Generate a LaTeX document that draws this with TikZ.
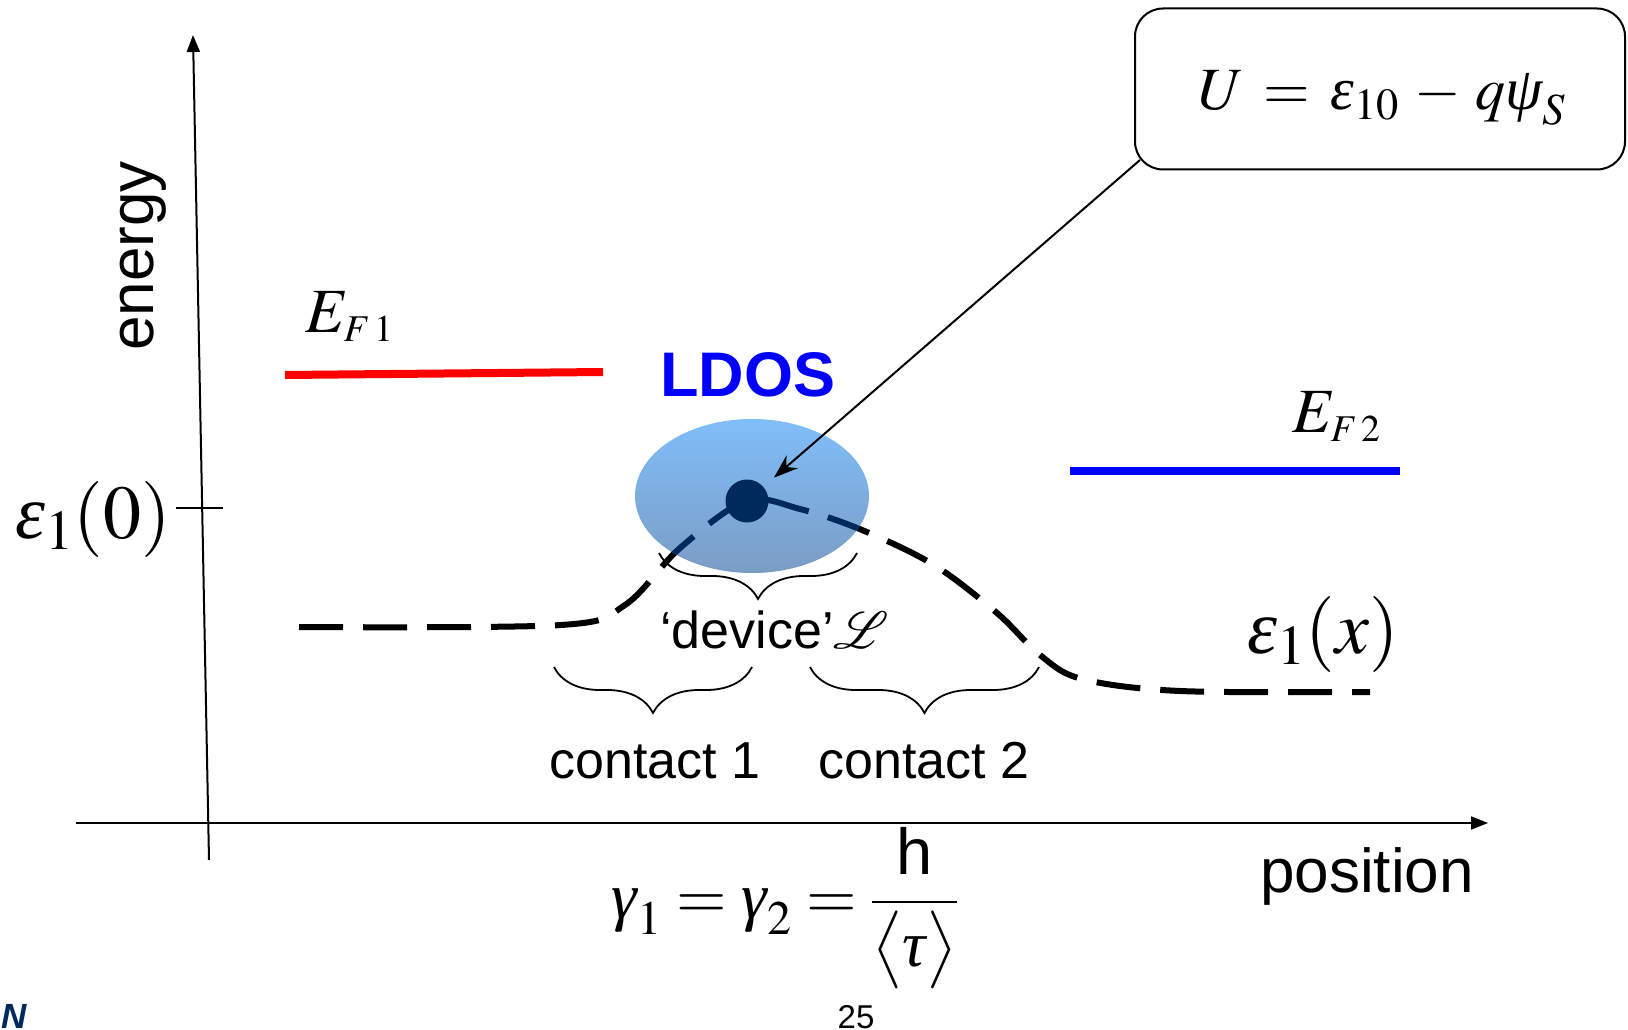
\documentclass[tikz,border=0pt]{standalone}
\usepackage{amsmath}
\usepackage{mathptmx}
\usepackage{fontspec}
\setmainfont{Liberation Serif}
\setsansfont{Liberation Sans}
\usetikzlibrary{arrows.meta,positioning,calc,decorations.pathreplacing,shapes.geometric}
\newcommand{\gk}[1]{\mbox{\itshape #1}}
\definecolor{dotnavy}{RGB}{0,42,92}
\definecolor{ldostop}{RGB}{128,190,250}
\definecolor{ldosbot}{RGB}{122,156,196}
\newcommand{\levelcurve}{plot[smooth,tension=0.55] coordinates {(299,627) (561,625)
  (625,605) (680,548) (746,501) (800,509) (862,530) (934,565) (997,613)
  (1040,655) (1082,679) (1180,691) (1370,692)}}

\begin{document}
\begin{tikzpicture}[
  x=1pt, y=-1pt,
  axis/.style     = {line width=2pt, -{Triangle[length=17pt,width=13pt]}},
  pointer/.style  = {line width=2pt, -{Stealth[length=24pt,width=17pt]}},
  fermi/.style    = {line width=8pt},
  bandline/.style = {line width=6pt, dash pattern=on 44pt off 20pt},
  brc/.style      = {decorate, decoration={brace, mirror, amplitude=46pt},
                     line width=1.8pt},
  txt/.style      = {inner sep=0pt, anchor=base},
  axlab/.style    = {txt, font=\sffamily\fontsize{62}{70}\selectfont},
  brlab/.style    = {txt, font=\sffamily\fontsize{52}{60}\selectfont},
  mlab/.style     = {txt, anchor=base west, font=\fontsize{63}{70}\selectfont},
  biglab/.style   = {txt, anchor=base west, font=\fontsize{76}{84}\selectfont},
  ubox/.style     = {draw, line width=2pt, rounded corners=28pt,
                     minimum width=490pt, minimum height=161pt},
]
\useasboundingbox (0,0) rectangle (1628,1030);

% axes
\coordinate (yfoot) at (209,860);
\coordinate (ytop)  at (193,35);
\coordinate (xfoot) at (76,823);
\coordinate (xtip)  at (1488,823);
\draw[axis] (yfoot) -- (ytop);
\draw[axis] (xfoot) -- (xtip);
\coordinate (tickl) at (176,508);
\coordinate (tickr) at (223,508);
\draw[line width=2pt] (tickl) -- (tickr);
\node[axlab, rotate=90] (energy) at (153,256) {energy};
\node[axlab] (position) at (1367,892) {position};
\node[biglab] (e0) at (15,538) {$\gk{ε}_1(0)$};

% Fermi levels
\coordinate (f1a) at (285,375);
\coordinate (f1b) at (603,372);
\coordinate (f2a) at (1070,471);
\coordinate (f2b) at (1400,471);
\draw[fermi, red]  (f1a) -- (f1b);
\draw[fermi, blue] (f2a) -- (f2b);
\node[mlab] (ef1) at (305,332) {$E_{\scriptscriptstyle F\,1}$};
\node[mlab] (ef2) at (1292,432) {$E_{\scriptscriptstyle F\,2}$};

% band profile and LDOS
\draw[bandline] \levelcurve;
\node[ellipse, minimum width=234pt, minimum height=154pt,
      top color=ldostop, bottom color=ldosbot] (ldos) at (752,496) {};
\begin{scope}
  \clip (752,496) ellipse [x radius=117, y radius=77];
  \draw[bandline, dotnavy] \levelcurve;
\end{scope}
\node[circle, fill=dotnavy, minimum size=43pt, inner sep=0pt] (dot) at (747,501) {};
\node[txt, text=blue, font=\sffamily\bfseries\fontsize{63}{70}\selectfont]
     (ldoslab) at (748,396) {LDOS};
\node[biglab] (ex) at (1247,653) {$\gk{ε}_1(x)$};

% braces
\coordinate (d1)  at (659,553);
\coordinate (d2)  at (857,553);
\coordinate (c1a) at (554,667);
\coordinate (c1b) at (752,667);
\coordinate (c2a) at (810,667);
\coordinate (c2b) at (1039,667);
\draw[brc] (d1) -- (d2);
\draw[brc] (c1a) -- (c1b);
\draw[brc] (c2a) -- (c2b);
\node[brlab, anchor=base west] (devlab) at (660,648) {‘device’$\mathcal{L}$};
\node[brlab] (c1lab) at (655,778) {contact 1};
\node[brlab] (c2lab) at (924,778) {contact 2};

% potential
\node[ubox] (ubox) at (1380,89) {};
\node[txt, font=\fontsize{60}{68}\selectfont] (ueq) at (1382,110)
     {$U \,=\, \gk{ε}_{10} \,-\, q\gk{ψ}_{S}$};
\coordinate (corner) at (1140,160);
\draw[pointer, shorten >=14pt] (corner) -- (dot);

% broadening
\node[txt, anchor=center, font=\fontsize{65}{72}\selectfont] (gam) at (785,908)
     {$\gk{γ}_1 = \gk{γ}_2 = \dfrac{\mbox{\sffamily h}}{\bigl\langle\gk{τ}\bigr\rangle}$};
\node[txt, font=\sffamily\fontsize{33}{38}\selectfont] (pgno) at (856,1028) {25};
\node[txt, anchor=base west, text=dotnavy,
      font=\sffamily\bfseries\itshape\fontsize{35}{40}\selectfont] (logo) at (1,1028) {N};
\end{tikzpicture}
\end{document}
